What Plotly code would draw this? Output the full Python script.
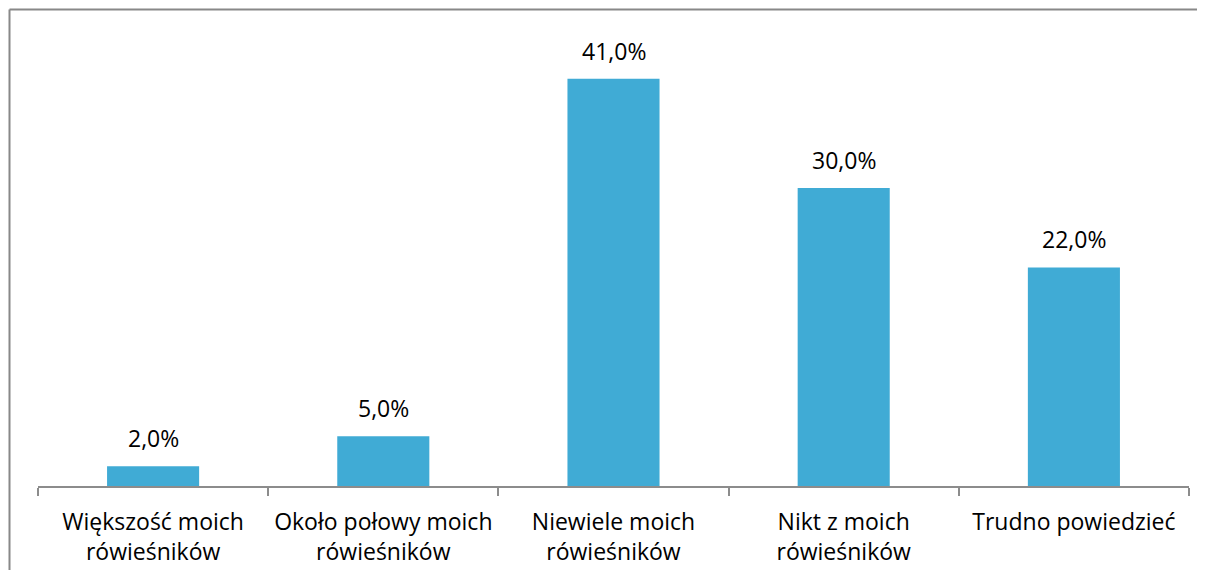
import plotly.graph_objects as go

categories = ["Większość moich<br>rówieśników", "Około połowy moich<br>rówieśników",
              "Niewiele moich<br>rówieśników", "Nikt z moich<br>rówieśników", "Trudno powiedzieć"]
values = [2.0, 5.0, 41.0, 30.0, 22.0]
labels = [f"{v:.1f}%".replace(".", ",") for v in values]

OFF = 8  # default page body margin
W, H = 1205 - 2 * OFF, 578 - 2 * OFF
L, R, T, B = 38 - OFF, 8, 39 - OFF, 92 - OFF
pw, ph = W - L - R, H - T - B
FONT = "Open Sans"
FS = 23

fig = go.Figure(go.Bar(
    x=categories, y=values,
    marker=dict(color="#40ABD5", line=dict(width=0)),
    width=0.4, cliponaxis=False,
))

for c, v, t in zip(categories, values, labels):
    fig.add_annotation(x=c, y=v, text=t, showarrow=False, yanchor="bottom",
                       yshift=10, font=dict(size=FS, family=FONT, color="#000000"))

def px2x(p):
    return (p - OFF - L) / pw

def px2y(p):
    return (H - B - (p - OFF)) / ph

# chart-area border (left and top edges are visible in the frame)
fig.add_shape(type="line", xref="paper", yref="paper",
              x0=px2x(9.5), x1=px2x(9.5), y0=px2y(600), y1=px2y(9.5),
              line=dict(color="#888888", width=2), layer="below")
fig.add_shape(type="line", xref="paper", yref="paper",
              x0=px2x(9.5), x1=px2x(1230), y0=px2y(9.5), y1=px2y(9.5),
              line=dict(color="#888888", width=2), layer="below")

fig.update_layout(
    width=W, height=H, margin=dict(l=L, r=R, t=T, b=B, autoexpand=False),
    paper_bgcolor="white", plot_bgcolor="white", showlegend=False,
    font=dict(family=FONT, size=FS, color="#000000"),
    xaxis=dict(showline=True, linecolor="#8C8C8C", linewidth=1.5, ticks="outside",
               tickson="boundaries", ticklen=8, tickcolor="#8C8C8C", tickwidth=1.5,
               showgrid=False, tickfont=dict(size=FS, family=FONT, color="#000000"),
               ticklabelstandoff=15, automargin=False),
    yaxis=dict(range=[0, 45], visible=False, showgrid=False, zeroline=False),
)

fig.write_html("out.html")
